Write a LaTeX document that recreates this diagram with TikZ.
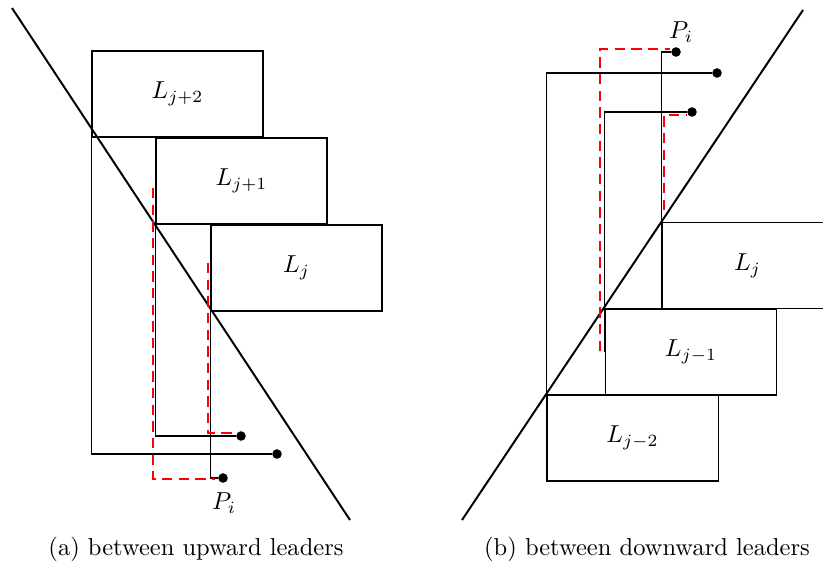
\documentclass[tikz,border=0pt]{standalone}
\begin{document}
\begin{tikzpicture}[x=0.408pt,y=-0.408pt,
  lbox/.style={draw,line width=0.45pt,minimum width=69.8pt,minimum height=35.1pt,inner sep=0pt},
  pdot/.style={circle,fill,inner sep=0pt,minimum size=3.9pt},
  leader/.style={line width=0.45pt},
  reddash/.style={red,line width=0.8pt,dash pattern=on 4.2pt off 2.6pt},
  diag/.style={line width=0.8pt},
  captext/.style={inner sep=0pt,anchor=base}]
\useasboundingbox (0,0) rectangle (823,565);
% ---------- (a) ----------
\node[lbox] (Ljp2) at (177.5,94) {$L_{j+2}$};
\node[lbox] (Ljp1) at (241.5,181) {$L_{j+1}$};
\node[lbox] (Lj) at (296.5,268) {$L_j$};
\coordinate (da1) at (12,8);
\coordinate (da2) at (350,520);
\draw[diag] (da1) -- (da2);
\node[pdot] (pa1) at (277,454) {};
\node[pdot] (pa2) at (241,436) {};
\node[pdot] (pa3) at (223,478) {};
\draw[leader] (Ljp2.west) |- (pa1);
\draw[leader] (Ljp1.west) |- (pa2);
\draw[leader] (Lj.west) |- (pa3);
\coordinate (ra1) at (153,188);
\coordinate (ra2) at (215,479);
\coordinate (ra3) at (208,263);
\coordinate (ra4) at (234,433);
\draw[reddash] (ra1) |- (ra2);
\draw[reddash] (ra3) |- (ra4);
\node (Pa) at (224,503) {$P_i$};
\node[captext] (capa) at (196,555) {(a) between upward leaders};
% ---------- (b) ----------
\node[lbox] (Rj) at (747.5,265.5) {$L_j$};
\node[lbox] (Rjm1) at (691,352) {$L_{j-1}$};
\node[lbox] (Rjm2) at (632.5,438) {$L_{j-2}$};
\coordinate (db1) at (462,520);
\coordinate (db2) at (803,10);
\draw[diag] (db1) -- (db2);
\node[pdot] (pb1) at (717,73) {};
\node[pdot] (pb2) at (692,112) {};
\node[pdot] (pb3) at (676,52) {};
\draw[leader] (Rjm2.west) |- (pb1);
\draw[leader] (Rjm1.west) |- (pb2);
\draw[leader] (Rj.west) |- (pb3);
\coordinate (rb1) at (600,351);
\coordinate (rb2) at (670,49);
\coordinate (rb3) at (664,210);
\coordinate (rb4) at (686,115);
\draw[reddash] (rb1) |- (rb2);
\draw[reddash] (rb3) |- (rb4);
\node (Pb) at (681,32) {$P_i$};
\node[captext] (capb) at (647,555) {(b) between downward leaders};
\end{tikzpicture}
\end{document}
